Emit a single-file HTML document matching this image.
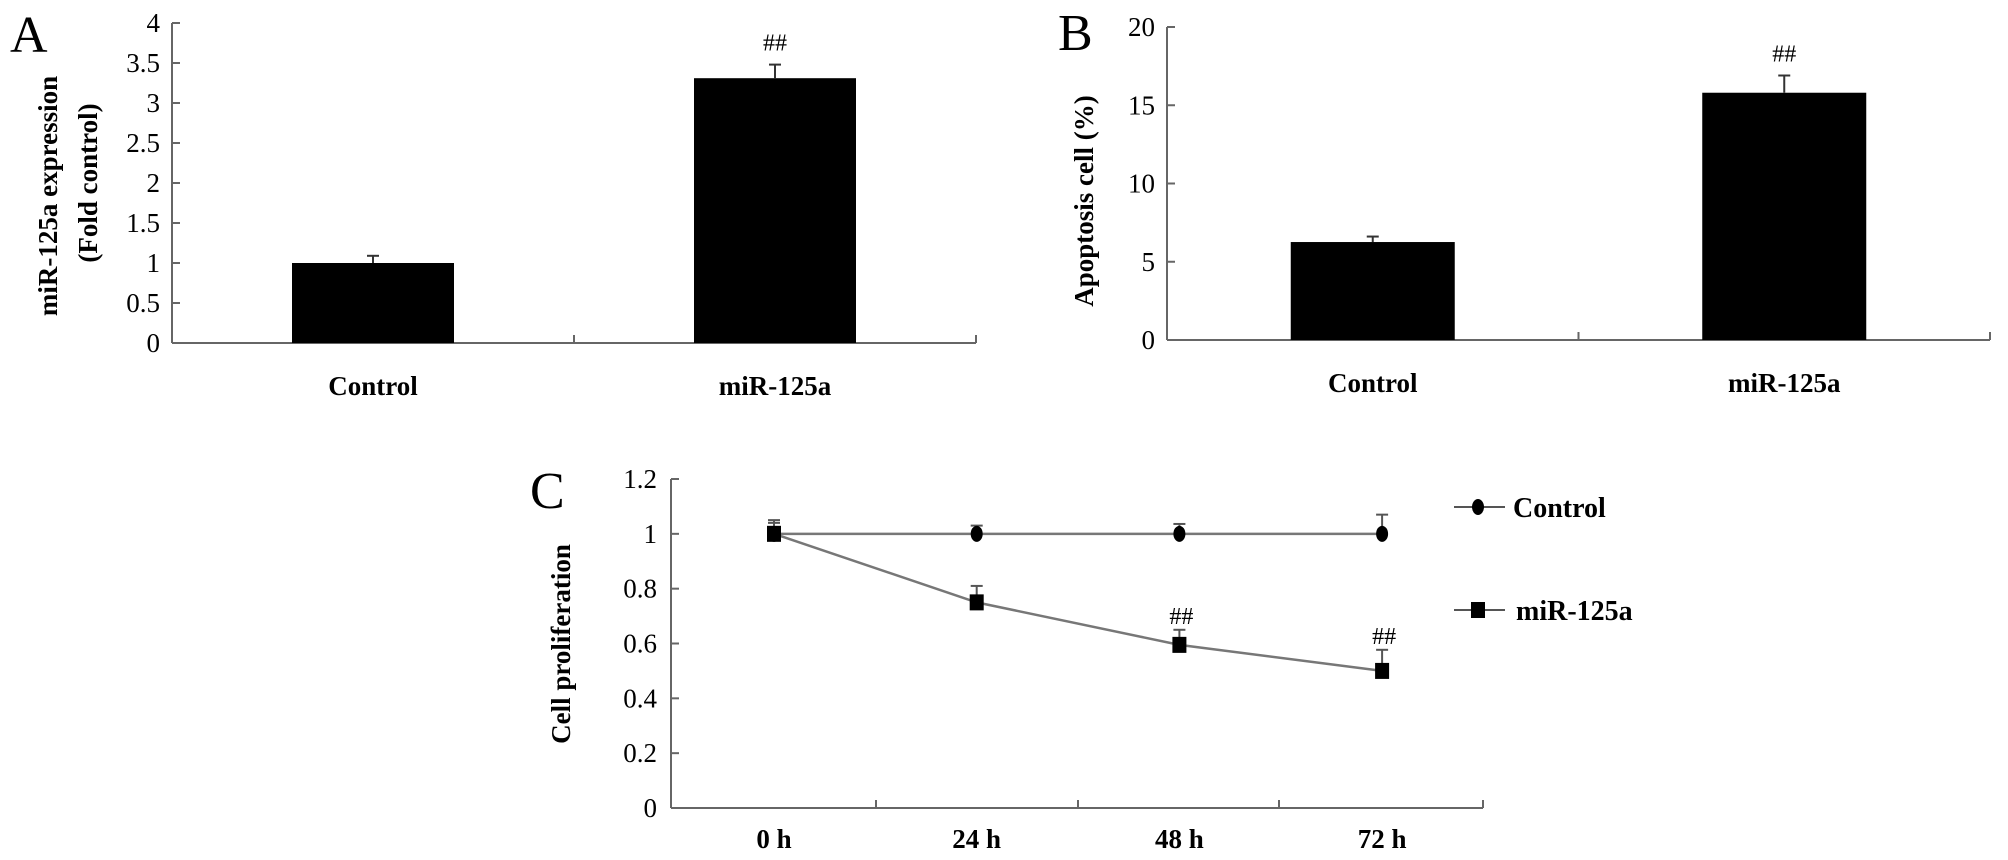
<!DOCTYPE html>
<html><head><meta charset="utf-8"><style>
html,body{margin:0;padding:0;background:#fff;}
svg{display:block;font-family:"Liberation Serif",serif;}
</style></head><body>
<svg id="fig" width="2008" height="860" viewBox="0 0 2008 860"></svg>
<script>
// Panel A data
const catsA = ["Control", "miR-125a"];
const valsA = [1.0, 3.31];
const errA = [0.09, 0.17];
const sigA = ["", "##"];
const ticksA = [0, 0.5, 1, 1.5, 2, 2.5, 3, 3.5, 4];
// Panel B data
const catsB = ["Control", "miR-125a"];
const valsB = [6.26, 15.8];
const errB = [0.35, 1.1];
const sigB = ["", "##"];
const ticksB = [0, 5, 10, 15, 20];
// Panel C data
const catsC = ["0 h", "24 h", "48 h", "72 h"];
const ctrlC = [1.0, 1.0, 1.0, 1.0];
const ctrlErrC = [0.05, 0.03, 0.036, 0.07];
const mirC = [1.0, 0.75, 0.595, 0.50];
const mirErrC = [0.04, 0.06, 0.055, 0.077];
const sigC = ["", "", "##", "##"];
const ticksC = [0, 0.2, 0.4, 0.6, 0.8, 1, 1.2];

const NS = "http://www.w3.org/2000/svg";
const svg = document.getElementById("fig");
function mk(tag, attrs, parent, text) {
  const e = document.createElementNS(NS, tag);
  for (const k in attrs) e.setAttribute(k, attrs[k]);
  if (text !== undefined) e.textContent = text;
  (parent || svg).appendChild(e);
  return e;
}
const AX = "#666";

function barPanel(o) {
  const g = mk("g", {});
  
  
  const y = v => o.y0 - (v - o.min) / (o.max - o.min) * (o.y0 - o.y1);
  // axes
  const ya = mk("line", {x1:o.ax, y1:o.y1, x2:o.ax, y2:o.y0, stroke:AX, "stroke-width":2}, g);
  
  
  const xa = mk("line", {x1:o.ax, y1:o.y0, x2:o.xr, y2:o.y0, stroke:AX, "stroke-width":2}, g);
  
  
  const n = o.cats.length, slot = (o.xr - o.ax) / n;
  for (let i = 1; i <= n; i++) {
    mk("line", {x1:o.ax + slot*i, y1:o.y0, x2:o.ax + slot*i, y2:o.y0 - 8, stroke:AX, "stroke-width":2}, g);
  }
  o.ticks.forEach(t => {
    mk("line", {x1:o.ax, y1:y(t), x2:o.ax + 8, y2:y(t), stroke:AX, "stroke-width":2}, g);
    const tl = mk("text", {x:o.ax - 12, y:y(t) + 9, "text-anchor":"end", "font-size":27}, g, String(t));
    
    
  });
  o.cats.forEach((c, i) => {
    const cx = o.ax + slot*(i + 0.5);
    const b = mk("rect", {x:cx - o.bw/2, y:y(o.vals[i]), width:o.bw, height:o.y0 - y(o.vals[i]), fill:"#000"}, g);
    
    
    const et = y(o.vals[i] + o.errs[i]);
    mk("line", {x1:cx, y1:y(o.vals[i]), x2:cx, y2:et, stroke:"#333", "stroke-width":2}, g);
    mk("line", {x1:cx - 6, y1:et, x2:cx + 6, y2:et, stroke:"#333", "stroke-width":2}, g);
    if (o.sig[i]) {
      const s = mk("text", {x:cx, y:et - 14, "text-anchor":"middle", "font-size":24}, g, o.sig[i]);
      
      
    }
    const xl = mk("text", {x:cx, y:o.y0 + 52, "text-anchor":"middle", "font-size":27, "font-weight":"bold"}, g, c);
    
    
  });
}

barPanel({name:"panel-a", cats:catsA, vals:valsA, errs:errA, sig:sigA, ticks:ticksA,
  min:0, max:4, ax:172, xr:976, y0:343, y1:23, bw:162});
barPanel({name:"panel-b", cats:catsB, vals:valsB, errs:errB, sig:sigB, ticks:ticksB,
  min:0, max:20, ax:1167, xr:1990, y0:340, y1:27, bw:164});

// Panel letters and titles
function txt(attrs, s, name) {
  const t = mk("text", attrs, svg, s);
  
  
  return t;
}
txt({x:10, y:52, "font-size":52}, "A", "panel-label-a");
txt({x:1058, y:50, "font-size":52}, "B", "panel-label-b");
txt({x:530, y:508, "font-size":52}, "C", "panel-label-c");
txt({x:0, y:0, "font-size":27, "font-weight":"bold", "text-anchor":"middle", transform:"translate(57,196) rotate(-90)"}, "miR-125a expression", "y-axis-title-a");
txt({x:0, y:0, "font-size":27, "font-weight":"bold", "text-anchor":"middle", transform:"translate(97,183) rotate(-90)"}, "(Fold control)", "y-axis-title-a-line2");
txt({x:0, y:0, "font-size":27, "font-weight":"bold", "text-anchor":"middle", transform:"translate(1093,201) rotate(-90)"}, "Apoptosis cell (%)", "y-axis-title-b");
txt({x:0, y:0, "font-size":27, "font-weight":"bold", "text-anchor":"middle", transform:"translate(570,644) rotate(-90)"}, "Cell proliferation", "y-axis-title-c");

// Panel C line chart
(function(){
  const g = mk("g", {});
  
  
  const ax = 671, xr = 1483, y0 = 808, y1 = 479, min = 0, max = 1.2;
  const y = v => y0 - (v - min) / (max - min) * (y0 - y1);
  const slot = (xr - ax) / 4;
  const x = i => 774 + i * 202.7;
  const ya = mk("line", {x1:ax, y1:y1, x2:ax, y2:y0, stroke:AX, "stroke-width":2}, g);
  
  
  const xa = mk("line", {x1:ax, y1:y0, x2:xr, y2:y0, stroke:AX, "stroke-width":2}, g);
  
  
  [876, 1078, 1279, xr].forEach(tx => mk("line", {x1:tx, y1:y0, x2:tx, y2:y0 - 8, stroke:AX, "stroke-width":2}, g));
  ticksC.forEach(t => {
    mk("line", {x1:ax, y1:y(t), x2:ax + 8, y2:y(t), stroke:AX, "stroke-width":2}, g);
    const tl = mk("text", {x:ax - 14, y:y(t) + 9, "text-anchor":"end", "font-size":27}, g, String(t));
    
    
  });
  catsC.forEach((c, i) => {
    const xl = mk("text", {x:x(i), y:y0 + 40, "text-anchor":"middle", "font-size":27, "font-weight":"bold"}, g, c);
    
    
  });
  function series(vals, errs, marker, name) {
    const pts = vals.map((v, i) => x(i) + "," + y(v)).join(" ");
    const pl = mk("polyline", {points:pts, fill:"none", stroke:"#777", "stroke-width":2.5}, g);
    
    
    vals.forEach((v, i) => {
      const et = y(v + errs[i]);
      mk("line", {x1:x(i), y1:y(v), x2:x(i), y2:et, stroke:"#555", "stroke-width":2}, g);
      mk("line", {x1:x(i) - 6, y1:et, x2:x(i) + 6, y2:et, stroke:"#555", "stroke-width":2}, g);
      let m;
      if (marker === "circle") m = mk("ellipse", {cx:x(i), cy:y(v), rx:6, ry:8, fill:"#000"}, g);
      else m = mk("rect", {x:x(i) - 7, y:y(v) - 8, width:14, height:16, fill:"#000"}, g);
      
      
    });
  }
  series(ctrlC, ctrlErrC, "circle", "control");
  series(mirC, mirErrC, "square", "mir-125a");
  mirC.forEach((v, i) => {
    if (sigC[i]) {
      const s = mk("text", {x:x(i) + 2, y:y(v + mirErrC[i]) - 6, "text-anchor":"middle", "font-size":24}, g, sigC[i]);
      
      
    }
  });
  // legend
  const lg = mk("g", {}, g);
  
  
  mk("line", {x1:1454, y1:507, x2:1505, y2:507, stroke:"#555", "stroke-width":2}, lg);
  mk("ellipse", {cx:1478, cy:507, rx:6, ry:8, fill:"#000"}, lg);
  const l1 = mk("text", {x:1513, y:517, "font-size":28, "font-weight":"bold"}, lg, "Control");
  
  
  mk("line", {x1:1454, y1:610, x2:1505, y2:610, stroke:"#555", "stroke-width":2}, lg);
  mk("rect", {x:1471, y:602, width:14, height:16, fill:"#000"}, lg);
  const l2 = mk("text", {x:1516, y:620, "font-size":28, "font-weight":"bold"}, lg, "miR-125a");
  
  
})();
</script>
</body></html>
